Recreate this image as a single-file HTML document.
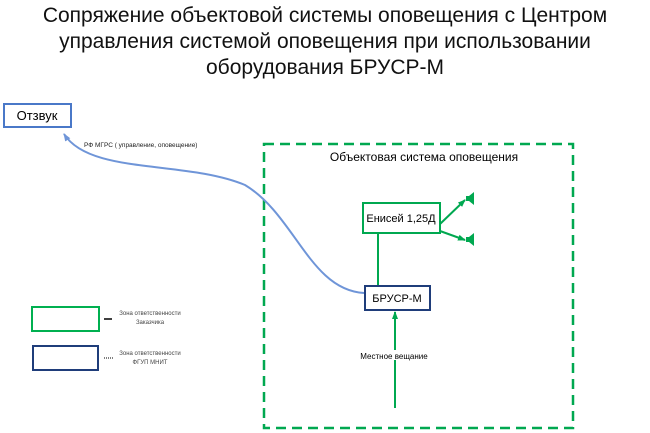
<!DOCTYPE html>
<html><head><meta charset="utf-8"><style>
body{margin:0;width:650px;height:433px;background:#fff;overflow:hidden;font-family:"Liberation Sans",sans-serif}
.t{position:absolute;left:0;width:650px;text-align:center;font-size:21px;line-height:26px;top:3px;color:#111}
</style></head><body>
<div class="t">Сопряжение объектовой системы оповещения с Центром<br>управления системой оповещения при использовании<br>оборудования БРУСР-М</div>
<svg width="650" height="433" style="position:absolute;left:0;top:0" font-family="Liberation Sans, sans-serif">
<defs>
<marker id="ab" markerUnits="userSpaceOnUse" markerWidth="8" markerHeight="8" refX="7" refY="4" orient="auto"><path d="M0,1L8,4L0,7z" fill="#6f95d8"/></marker>
<marker id="ag" markerUnits="userSpaceOnUse" markerWidth="8" markerHeight="8" refX="7" refY="4" orient="auto"><path d="M0,1L8,4L0,7z" fill="#00a850"/></marker>
</defs>
<rect x="264" y="144" width="309" height="284" fill="none" stroke="#00a850" stroke-width="2.5" stroke-dasharray="10,6"/>
<text x="424" y="161" font-size="12" text-anchor="middle">Объектовая система оповещения</text>
<rect x="4" y="104" width="67" height="23" fill="#fff" stroke="#4a78c8" stroke-width="2"/>
<text x="37" y="120" font-size="13" text-anchor="middle">Отзвук</text>
<text x="84" y="147" font-size="6.5" fill="#222">РФ МГРС ( управление, оповещение)</text>
<path d="M364,293 C310,290 295,215 245,185 C185,160 90,175 64,134" fill="none" stroke="#6f95d8" stroke-width="2" marker-end="url(#ab)" marker-start="url(#ab)"/>
<rect x="363" y="203" width="77" height="30" fill="#fff" stroke="#00a850" stroke-width="2"/>
<text x="401" y="222" font-size="11" text-anchor="middle">Енисей 1,25Д</text>
<line x1="378" y1="233" x2="378" y2="286" stroke="#00a850" stroke-width="2"/>
<rect x="365" y="286" width="65" height="24" fill="#fff" stroke="#1f3d7a" stroke-width="2"/>
<text x="397" y="302" font-size="11" text-anchor="middle">БРУСР-М</text>
<line x1="395" y1="408" x2="395" y2="312" stroke="#00a850" stroke-width="2" marker-end="url(#ag)"/>
<rect x="354" y="350" width="80" height="10" fill="#fff"/>
<text x="394" y="359" font-size="8" text-anchor="middle">Местное  вещание</text>
<line x1="440" y1="224" x2="465" y2="200" stroke="#00a850" stroke-width="2" marker-end="url(#ag)"/>
<line x1="440" y1="231" x2="465" y2="240" stroke="#00a850" stroke-width="2" marker-end="url(#ag)"/>
<path d="M466,196h3l5,-4v13l-5,-4h-3z" fill="#00a850"/>
<path d="M466,237h3l5,-4v13l-5,-4h-3z" fill="#00a850"/>
<rect x="32" y="307" width="67" height="24" fill="#fff" stroke="#00b050" stroke-width="2"/>
<rect x="33" y="346" width="65" height="24" fill="#fff" stroke="#1f3d7a" stroke-width="2"/>
<line x1="104" y1="319" x2="112" y2="319" stroke="#000" stroke-width="1.5"/>
<line x1="104" y1="358" x2="113" y2="358" stroke="#000" stroke-dasharray="1,1"/>
<text x="150" y="315" font-size="6" text-anchor="middle" fill="#444">Зона ответственности</text>
<text x="150" y="324" font-size="6" text-anchor="middle" fill="#444">Заказчика</text>
<text x="150" y="355" font-size="6" text-anchor="middle" fill="#444">Зона ответственности</text>
<text x="150" y="364" font-size="6" text-anchor="middle" fill="#444">ФГУП МНИТ</text>
</svg>
</body></html>
